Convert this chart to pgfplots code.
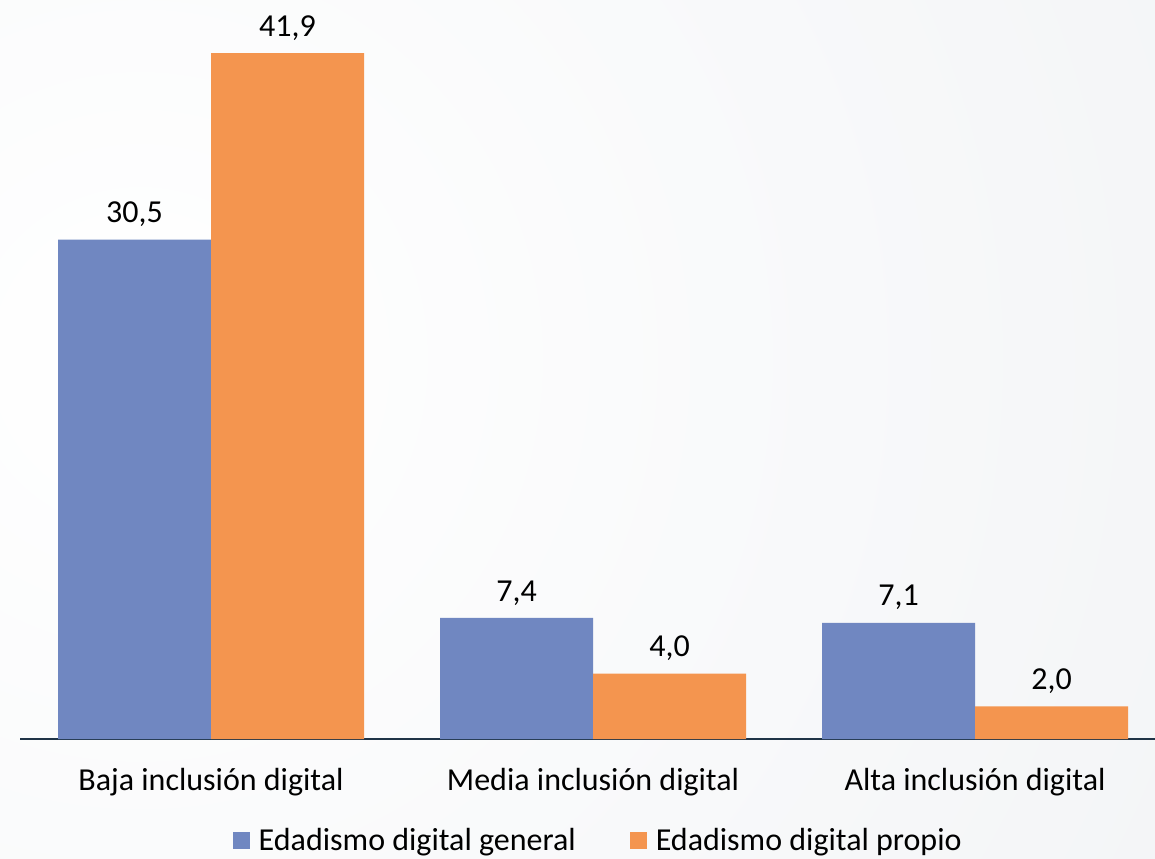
\documentclass[border=0pt]{standalone}
\usepackage{fontspec}
\setmainfont{Carlito}
\usepackage{pgfplots}
\pgfplotsset{compat=1.18}
\definecolor{serieA}{HTML}{7087C1}
\definecolor{serieB}{HTML}{F4954F}
\definecolor{ejeX}{HTML}{1F3447}
\definecolor{fondo}{HTML}{E8EBEF}
\newcommand{\fuente}{\fontsize{24}{28}\selectfont}
\begin{document}
\begin{tikzpicture}[x=0.75pt,y=0.75pt]
% 1 unidad = 1 px de la referencia; eje x en y=0, izquierda del eje en x=0
\path[use as bounding box] (-20,-119) rectangle (1135,739);
\begin{scope}
  \clip (-20,-119) rectangle (1135,739);
  \shade[inner color=white, outer color=fondo] (120,380) circle (2300);
\end{scope}
\begin{axis}[
    at={(0,0)}, anchor=south west,
    scale only axis, width=851.25pt, height=554.25pt,
    xmin=-0.5, xmax=2.471,
    ymin=0, ymax=45.14,
    ybar=0pt, bar width=114.75pt,
    axis x line*=bottom, axis y line=none,
    axis line style={ejeX, line width=1.5pt},
    xtick={0,1,2},
    xticklabels={Baja inclusión digital, Media inclusión digital, Alta inclusión digital},
    major tick length=0pt,
    xticklabel style={font=\fuente, yshift=-18.5pt},
    nodes near coords,
    every node near coord/.append style={font=\fuente, yshift=6pt},
    /pgf/number format/.cd, fixed, fixed zerofill, precision=1, use comma, assume math mode=true,
    /pgfplots/.cd,
    clip=false,
    legend columns=2,
    legend style={at={(0.51,0)}, anchor=center, yshift=-76pt, draw=none, fill=none,
        font=\fuente,
        /tikz/every even column/.append style={column sep=39pt}},
    legend image code/.code={\fill[#1] (0pt,-6.4pt) rectangle (12.75pt,6.4pt);
        \path (17pt,0pt);},
]
\addplot[fill=serieA, draw=none] coordinates {(0,30.5) (1,7.4) (2,7.1)};
\addplot[fill=serieB, draw=none] coordinates {(0,41.9) (1,4.0) (2,2.0)};
\legend{Edadismo digital general, Edadismo digital propio}
\end{axis}
\end{tikzpicture}
\end{document}
